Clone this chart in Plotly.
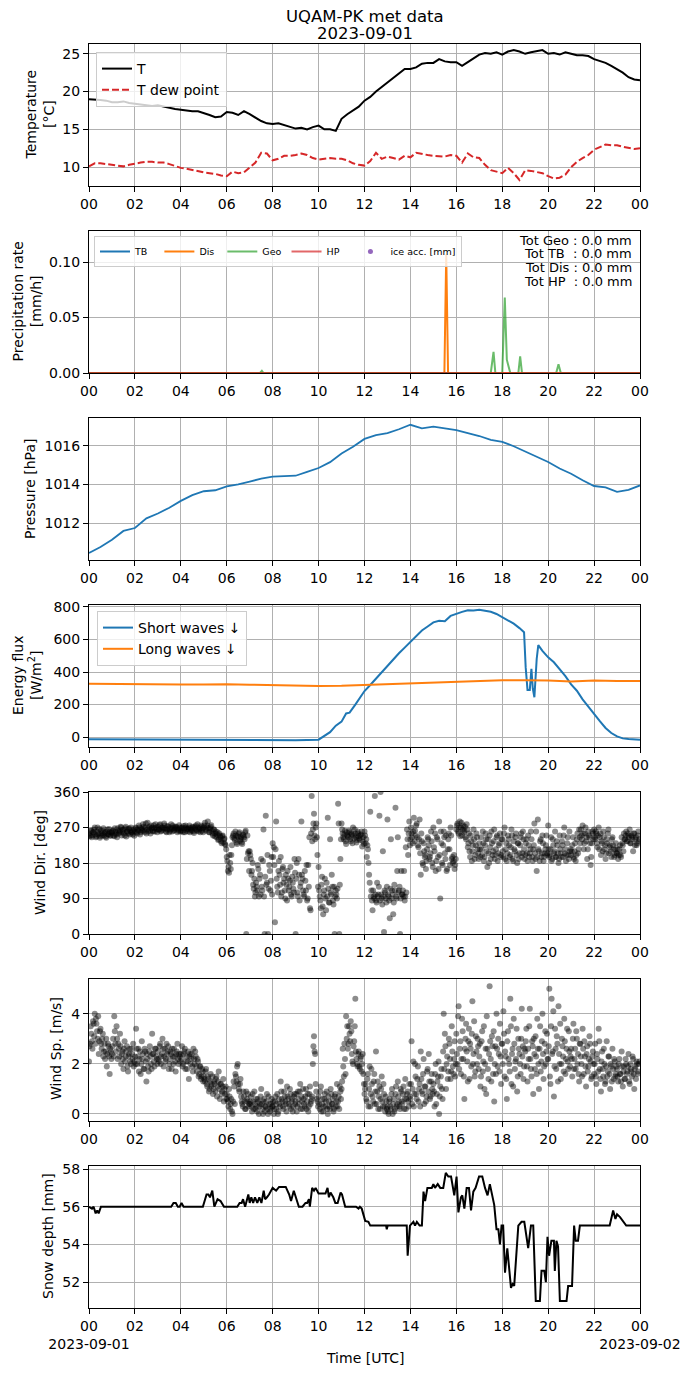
import numpy as np
import pandas as pd
import plotly.graph_objects as go
from plotly.subplots import make_subplots

DAY = pd.Timestamp("2023-09-01")

# air temperature and dew point, every 15 min from 00 to 24 h
temp_c = [19.0, 19.0, 18.9, 18.8,
          18.6, 18.6, 18.7, 18.5,
          18.4, 18.3, 18.2, 18.1,
          18.2, 18.0, 17.9, 17.7,
          17.6, 17.5, 17.4, 17.4,
          17.2, 16.9, 16.6, 16.7,
          17.3, 17.2, 16.9, 17.4,
          17.0, 16.5, 16.1, 15.8,
          15.7, 15.8, 15.6, 15.4,
          15.1, 15.2, 15.0, 15.3,
          15.5, 15.0, 15.0, 14.8,
          16.4, 17.0, 17.5, 18.0,
          18.8, 19.3, 20.0, 20.6,
          21.3, 21.9, 22.5, 23.0,
          23.0, 23.2, 23.7, 23.8,
          23.8, 24.3, 24.0, 23.9,
          23.9, 23.4, 23.9, 24.4,
          24.9, 25.1, 25.0, 25.2,
          24.9, 25.3, 25.5, 25.3,
          25.0, 25.2, 25.3, 25.5,
          25.0, 25.1, 24.9, 25.2,
          25.0, 24.8, 24.8, 24.7,
          24.3, 24.1, 23.8, 23.4,
          23.0, 22.5, 21.9, 21.6,
          21.5]
dew_c = [10.1, 10.5, 10.5, 10.4,
         10.3, 10.2, 10.1, 10.3,
         10.5, 10.6, 10.7, 10.7,
         10.6, 10.6, 10.4, 10.1,
         9.9, 9.8, 9.6, 9.4,
         9.3, 9.2, 9.1, 8.9,
         8.8, 9.4, 9.2, 9.3,
         9.9, 10.6, 11.9, 11.8,
         10.9, 11.1, 11.5, 11.5,
         11.6, 11.8, 11.6, 11.2,
         11.0, 11.1, 11.2, 11.1,
         11.1, 10.9, 10.5, 10.3,
         10.2, 10.8, 11.9, 11.1,
         11.4, 11.2, 11.0, 11.5,
         11.3, 11.9, 11.7, 11.6,
         11.5, 11.4, 11.4, 11.6,
         11.5, 10.6, 11.8, 11.3,
         11.2, 10.3, 9.6, 9.4,
         9.2, 9.9, 9.2, 8.3,
         9.6, 9.5, 9.4, 9.2,
         8.8, 8.5, 8.6, 9.0,
         10.0, 10.7, 11.2, 11.6,
         12.3, 12.7, 13.0, 12.9,
         12.9, 12.7, 12.5, 12.4,
         12.5]

# precipitation rate [mm/h]
prc_tb_hours = [0, 24]
prc_tb = [0.0, 0.0]
prc_dis_hours = [0, 15.48, 15.56, 15.64, 24]
prc_dis = [0.0, 0.0, 0.107, 0.0, 0.0]
prc_geo_hours = [0, 7.45, 7.53, 7.6, 17.5, 17.62, 17.7, 18.0, 18.11, 18.2, 18.25,
                 18.35, 18.7, 18.78, 18.86, 20.35, 20.45, 20.55, 24]
prc_geo = [0.0, 0.0, 0.002, 0.0, 0.0, 0.019, 0.0, 0.0, 0.068, 0.012, 0.008,
           0.0, 0.0, 0.015, 0.0, 0.0, 0.008, 0.0, 0.0]
prc_hp_hours = [0, 24]
prc_hp = [0.0, 0.0]
ice_acc_hours = [0]
ice_acc = [-1.0]  # no ice accretion: sits below the visible range
tot_lines = ["Tot Geo : 0.0 mm", "Tot TB\u00a0\u00a0: 0.0 mm",
             "Tot Dis : 0.0 mm", "Tot HP\u00a0\u00a0: 0.0 mm"]

# pressure, every 30 min
press_hpa = [1010.46, 1010.77, 1011.15, 1011.6, 1011.75, 1012.25, 1012.5, 1012.8,
             1013.15, 1013.45, 1013.65, 1013.7, 1013.9, 1014.0, 1014.15, 1014.3,
             1014.4, 1014.42, 1014.45, 1014.65, 1014.85, 1015.15, 1015.6, 1015.95,
             1016.35, 1016.55, 1016.65, 1016.85, 1017.08, 1016.9, 1016.98, 1016.9,
             1016.8, 1016.65, 1016.5, 1016.3, 1016.2, 1015.97, 1015.7, 1015.42,
             1015.16, 1014.82, 1014.55, 1014.22, 1013.92, 1013.85, 1013.62, 1013.72,
             1013.95]

# radiation
sw_hours = [0, 1, 2, 3, 4, 5, 6, 7, 8, 9, 10,
            10.25, 10.5, 10.75, 11,
            11.2, 11.35, 11.6, 11.8,
            12, 12.25, 12.5, 12.75,
            13, 13.25, 13.5, 13.75,
            14, 14.25, 14.5, 14.75,
            15, 15.25, 15.5, 15.75,
            16, 16.25, 16.5, 16.75,
            17, 17.25, 17.5, 17.75,
            18, 18.25, 18.5, 18.75,
            18.95, 19.02, 19.1, 19.2, 19.27, 19.33, 19.4, 19.5, 19.57,
            19.75, 20, 20.25, 20.5, 20.75,
            21, 21.25, 21.5, 21.75,
            22, 22.25, 22.5, 22.75,
            23, 23.25, 23.5, 23.75, 24]
sw_wm2 = [-14, -15, -15, -16, -16, -17, -17, -18, -19, -19, -16,
          5, 30, 70, 95,
          145, 150, 200, 240,
          283, 320, 360, 400,
          440, 478, 515, 550,
          587, 620, 655, 680,
          705, 715, 712, 745,
          760, 770, 780, 778,
          783, 778, 770, 757,
          738, 718, 697, 670,
          645, 430, 290, 290, 420, 300, 245, 480, 565,
          530, 490, 460, 420, 375,
          324, 285, 232, 185,
          138, 98, 56, 25,
          4, -8, -12, -16, -17]
lw_wm2 = [328, 326, 325, 323, 323, 323, 325, 322, 318, 316, 314, 315, 320,
          327, 334, 337, 341, 346, 350, 349, 348, 342, 348, 345, 345]

# wind direction [deg], 20 samples per hour, second set 1.5 min later
wdir_deg = [
    [255, 248, 262, 250, 258, 270, 245, 260, 252, 266, 248, 255, 262, 250, 258, 244, 265, 252, 258, 250],
    [256, 262, 248, 260, 252, 268, 255, 262, 270, 258, 265, 250, 272, 260, 255, 268, 262, 258, 252, 265],
    [260, 268, 255, 262, 270, 258, 265, 278, 262, 270, 255, 282, 268, 262, 275, 270, 260, 268, 278, 265],
    [272, 265, 278, 262, 270, 268, 275, 260, 265, 272, 258, 270, 266, 275, 262, 268, 272, 258, 265, 270],
    [262, 270, 258, 268, 275, 262, 266, 270, 258, 264, 272, 260, 268, 275, 262, 270, 265, 258, 272, 268],
    [270, 282, 262, 275, 268, 258, 272, 262, 250, 265, 255, 245, 258, 240, 250, 235, 248, 232, 242, 225],
    [195, 160, 155, 180, 200, 245, 255, 238, 250, 228, 245, 258, 240, 232, 252, 245, 258, 0, 250, 210],
    [210, 190, 160, 125, 140, 105, 120, 175, 95, 150, 190, 110, 265, 0, 300, 130, 0, 175, 110, 195],
    [230, 220, 30, 285, 120, 160, 150, 195, 105, 170, 140, 90, 125, 160, 110, 135, 100, 145, 115, 190],
    [0, 180, 95, 150, 120, 285, 140, 100, 160, 110, 85, 175, 245, 60, 350, 265, 305, 240, 280, 200],
    [170, 95, 65, 145, 50, 110, 90, 130, 295, 80, 240, 100, 120, 75, 0, 110, 90, 330, 0, 190],
    [280, 255, 240, 262, 228, 250, 245, 258, 235, 252, 270, 242, 255, 232, 260, 248, 238, 252, 222, 245],
    [260, 230, 195, 215, 150, 310, 110, 60, 95, 350, 85, 130, 100, 300, 360, 90, 210, 5, 105, 80],
    [290, 95, 40, 240, 110, 50, 125, 320, 90, 245, 110, 0, 160, 100, 95, 85, 220, 265, 200, 285],
    [240, 255, 230, 295, 262, 275, 245, 220, 290, 150, 235, 175, 210, 200, 185, 245, 225, 195, 260, 180],
    [270, 210, 160, 245, 195, 285, 90, 230, 175, 260, 205, 250, 165, 240, 215, 270, 190, 180, 200, 175],
    [265, 280, 255, 285, 270, 250, 275, 262, 245, 278, 220, 255, 195, 235, 210, 265, 190, 225, 245, 205],
    [230, 195, 215, 260, 185, 225, 240, 170, 205, 250, 190, 230, 210, 265, 200, 245, 185, 225, 255, 200],
    [240, 195, 270, 215, 185, 250, 225, 200, 265, 190, 235, 210, 255, 180, 230, 205, 245, 195, 260, 215],
    [200, 240, 185, 225, 205, 260, 195, 215, 280, 190, 160, 290, 210, 235, 195, 250, 185, 205, 225, 200],
    [275, 195, 215, 185, 240, 205, 260, 195, 225, 180, 250, 205, 235, 195, 270, 215, 200, 245, 190, 210],
    [200, 225, 195, 210, 185, 240, 205, 265, 230, 250, 275, 215, 255, 235, 190, 260, 245, 175, 230, 255],
    [265, 240, 255, 220, 270, 245, 200, 230, 260, 215, 190, 240, 255, 205, 225, 195, 245, 215, 200, 230],
    [205, 190, 215, 200, 245, 225, 255, 240, 260, 235, 250, 265, 230, 245, 210, 255, 240, 225, 250, 235],
]
wdir_deg_b = [
    [250, 262, 245, 258, 265, 252, 248, 270, 256, 244, 262, 250, 268, 255, 247, 260, 253, 266, 249, 258],
    [262, 250, 268, 255, 245, 262, 258, 272, 250, 263, 255, 268, 247, 260, 266, 252, 270, 257, 262, 249],
    [270, 258, 264, 275, 252, 268, 262, 272, 258, 280, 265, 260, 272, 255, 268, 262, 276, 260, 270, 258],
    [265, 276, 260, 270, 264, 280, 268, 258, 274, 266, 262, 278, 260, 270, 264, 272, 268, 262, 276, 260],
    [268, 262, 274, 258, 270, 266, 260, 275, 268, 262, 270, 256, 272, 264, 278, 260, 268, 275, 262, 258],
    [275, 265, 270, 285, 258, 268, 276, 255, 265, 248, 260, 252, 238, 255, 245, 230, 250, 240, 228, 215],
    [185, 170, 200, 165, 225, 250, 242, 260, 232, 248, 255, 236, 245, 228, 250, 240, 262, 190, 205, 160],
    [200, 150, 180, 115, 95, 130, 110, 165, 140, 100, 120, 185, 95, 145, 125, 200, 115, 160, 135, 100],
    [195, 175, 215, 140, 105, 185, 125, 95, 165, 130, 110, 150, 85, 140, 120, 170, 95, 130, 105, 155],
    [140, 105, 190, 85, 130, 150, 110, 95, 135, 175, 90, 120, 65, 255, 235, 280, 250, 270, 245, 120],
    [110, 85, 125, 70, 100, 140, 60, 95, 115, 80, 105, 150, 85, 120, 95, 100, 115, 280, 125, 240],
    [265, 245, 252, 235, 258, 248, 262, 240, 255, 230, 250, 265, 245, 238, 255, 242, 250, 260, 235, 228],
    [250, 240, 225, 180, 130, 95, 85, 110, 90, 100, 80, 95, 120, 85, 100, 75, 95, 110, 90, 120],
    [100, 85, 115, 90, 100, 80, 110, 95, 160, 105, 120, 90, 100, 110, 160, 95, 105, 240, 255, 225],
    [270, 245, 260, 235, 250, 280, 225, 240, 205, 255, 180, 230, 195, 165, 215, 240, 190, 205, 235, 170],
    [220, 255, 185, 240, 165, 200, 260, 180, 225, 245, 190, 160, 215, 255, 175, 250, 195, 185, 165, 190],
    [275, 260, 270, 248, 282, 265, 258, 272, 240, 265, 230, 210, 250, 185, 225, 240, 200, 255, 215, 190],
    [215, 245, 200, 230, 195, 255, 210, 240, 180, 220, 260, 200, 235, 190, 215, 250, 205, 230, 195, 240],
    [210, 255, 190, 230, 205, 240, 195, 220, 250, 185, 215, 245, 200, 230, 190, 225, 255, 205, 240, 190],
    [230, 205, 250, 195, 215, 240, 185, 225, 205, 260, 195, 215, 185, 240, 205, 230, 195, 215, 250, 205],
    [215, 200, 245, 190, 225, 210, 195, 235, 205, 190, 215, 195, 225, 250, 205, 185, 230, 200, 260, 215],
    [210, 245, 190, 230, 200, 255, 215, 245, 265, 240, 255, 230, 270, 245, 215, 250, 230, 195, 260, 240],
    [245, 260, 230, 250, 215, 255, 235, 210, 245, 225, 205, 230, 265, 220, 210, 240, 225, 195, 215, 205],
    [215, 200, 225, 195, 230, 210, 240, 250, 235, 255, 245, 230, 250, 240, 255, 225, 245, 230, 260, 240],
]

# wind speed [m/s], 20 samples per hour, second set 1.5 min later
wspd_ms = [
    [2.1, 2.8, 3.2, 2.6, 3.6, 4.0, 3.8, 3.3, 3.9, 2.9, 3.4, 2.6, 3.2, 2.5, 2.2, 3.0, 2.4, 2.7, 1.6, 2.5],
    [2.4, 3.0, 3.9, 2.8, 3.5, 2.2, 2.6, 3.2, 2.0, 2.5, 1.8, 2.9, 2.3, 2.7, 1.7, 2.4, 2.1, 2.6, 2.2, 1.9],
    [2.3, 3.4, 2.0, 2.6, 2.2, 1.6, 2.9, 2.4, 1.8, 2.5, 1.3, 2.2, 1.7, 2.7, 2.0, 3.2, 2.4, 1.9, 2.6, 2.2],
    [2.5, 2.1, 2.8, 2.3, 3.0, 1.9, 2.6, 2.2, 2.4, 2.7, 2.0, 2.5, 1.8, 2.3, 2.6, 2.1, 2.4, 2.8, 2.0, 2.3],
    [2.4, 2.7, 2.0, 2.5, 1.8, 2.3, 2.1, 1.4, 2.4, 2.2, 1.9, 2.6, 2.0, 2.3, 1.7, 2.1, 1.6, 1.9, 1.5, 1.7],
    [1.5, 1.3, 1.8, 1.1, 1.4, 1.0, 1.6, 1.2, 0.8, 1.3, 0.9, 1.5, 1.1, 1.7, 0.6, 1.2, 0.9, 1.4, 1.0, 1.1],
    [0.8, 0.5, 1.0, 0.2, 0.6, 0.0, 1.3, 0.4, 1.5, 1.9, 1.2, 0.9, 1.4, 0.5, 0.3, 0.7, 0.2, 0.9, 0.5, 0.3],
    [0.4, 0.7, 0.1, 0.5, 0.9, 0.2, 0.3, 0.6, 0.0, 0.4, 1.0, 0.2, 0.5, 0.1, 0.3, 0.8, 0.0, 0.4, 0.2, 0.6],
    [0.3, 0.0, 0.5, 0.2, 0.8, 0.1, 0.4, 1.3, 0.6, 0.3, 0.9, 0.5, 0.1, 0.7, 0.4, 1.0, 0.2, 0.6, 0.3, 0.8],
    [0.5, 0.1, 0.9, 0.4, 1.2, 0.7, 0.2, 0.6, 0.3, 1.0, 0.5, 0.1, 0.8, 0.4, 0.6, 2.0, 3.1, 2.4, 0.9, 0.5],
    [0.7, 0.2, 1.1, 0.4, 0.1, 0.6, 0.3, 0.9, 0.0, 0.5, 0.2, 0.8, 0.4, 0.1, 0.7, 0.3, 1.2, 0.5, 0.2, 0.9],
    [1.0, 2.6, 1.5, 2.2, 3.9, 3.5, 2.8, 3.2, 3.7, 2.4, 2.0, 2.9, 4.6, 2.2, 1.9, 2.5, 1.8, 2.3, 2.0, 1.6],
    [0.8, 1.2, 0.5, 1.6, 1.0, 0.3, 1.8, 0.7, 1.3, 0.4, 2.5, 0.9, 0.2, 1.1, 0.6, 1.5, 0.3, 0.8, 0.1, 0.5],
    [0.3, 0.0, 0.6, 0.2, 1.0, 0.4, 0.1, 0.8, 0.3, 1.3, 0.5, 0.2, 0.9, 0.4, 1.1, 0.6, 0.2, 0.8, 0.5, 1.2],
    [0.6, 2.9, 1.0, 0.3, 2.0, 0.8, 1.4, 0.5, 1.2, 2.5, 0.9, 1.6, 0.4, 1.1, 0.7, 1.8, 2.4, 0.6, 1.3, 1.0],
    [1.2, 0.3, 2.0, 0.8, 1.5, 0.0, 1.1, 1.8, 0.6, 4.0, 3.2, 1.0, 2.3, 1.7, 2.8, 1.4, 3.5, 1.9, 2.2, 1.5],
    [3.2, 2.0, 4.3, 2.6, 1.6, 3.8, 2.2, 0.6, 3.0, 2.5, 1.3, 3.4, 2.8, 1.9, 4.5, 2.4, 1.5, 3.1, 2.0, 2.7],
    [2.3, 1.1, 2.9, 1.7, 3.5, 2.0, 0.8, 2.6, 1.4, 5.1, 2.2, 3.1, 1.6, 0.5, 2.7, 4.0, 1.9, 2.4, 3.6, 1.2],
    [2.8, 4.1, 1.5, 2.3, 0.6, 3.3, 2.0, 4.6, 1.2, 2.6, 3.8, 1.8, 2.2, 0.9, 3.0, 2.4, 1.6, 4.2, 2.7, 1.9],
    [2.5, 3.4, 1.3, 2.2, 4.2, 1.8, 2.9, 0.8, 2.4, 3.1, 1.6, 2.6, 1.0, 3.5, 2.1, 4.0, 1.4, 2.8, 2.0, 3.2],
    [2.2, 5.0, 1.2, 4.6, 2.5, 0.7, 3.4, 1.8, 2.8, 4.3, 2.0, 1.4, 3.0, 2.3, 3.8, 1.6, 2.6, 2.1, 3.3, 1.9],
    [2.6, 1.5, 3.6, 2.2, 1.8, 3.0, 2.4, 1.3, 2.8, 2.0, 3.4, 1.6, 2.3, 1.1, 2.7, 1.9, 3.1, 2.1, 1.5, 2.5],
    [1.6, 2.8, 1.2, 2.2, 3.4, 1.8, 0.9, 2.5, 1.5, 2.0, 1.3, 2.9, 1.7, 2.3, 1.0, 1.9, 2.6, 1.4, 2.1, 1.6],
    [1.8, 1.3, 2.2, 1.6, 2.5, 1.1, 1.9, 1.4, 2.0, 1.7, 2.4, 1.2, 1.8, 1.5, 2.2, 1.0, 1.9, 2.1, 1.6, 2.0],
]
wspd_ms_b = [
    [2.7, 3.5, 2.9, 3.7, 3.1, 2.8, 3.6, 3.0, 2.4, 3.3, 2.8, 3.0, 2.3, 2.8, 2.5, 1.9, 2.8, 2.3, 2.6, 2.2],
    [2.7, 2.3, 3.3, 2.5, 3.0, 2.8, 2.3, 2.7, 2.4, 2.2, 2.6, 2.1, 2.5, 1.9, 2.3, 2.6, 2.0, 2.4, 2.8, 2.1],
    [2.0, 2.6, 2.3, 1.7, 2.5, 2.0, 2.2, 1.8, 2.6, 2.1, 2.4, 1.9, 2.5, 2.3, 1.8, 2.4, 2.1, 2.6, 2.3, 2.0],
    [2.2, 2.7, 2.0, 2.4, 2.6, 2.3, 2.1, 2.8, 2.5, 1.8, 2.2, 2.4, 2.6, 2.0, 2.3, 1.7, 2.5, 2.2, 2.4, 2.1],
    [2.2, 1.9, 2.4, 2.6, 2.1, 1.8, 2.5, 2.3, 2.0, 2.4, 1.7, 2.2, 2.5, 1.9, 2.2, 1.5, 1.9, 1.4, 1.8, 1.3],
    [1.4, 1.7, 1.2, 1.5, 0.9, 1.3, 1.1, 1.5, 1.0, 1.2, 1.4, 0.7, 1.3, 1.0, 1.2, 0.8, 1.1, 0.5, 0.8, 0.6],
    [0.6, 0.3, 0.7, 0.4, 0.1, 0.5, 1.1, 1.6, 1.3, 2.0, 1.0, 1.2, 0.7, 0.4, 0.9, 0.5, 0.2, 0.6, 0.8, 0.4],
    [0.5, 0.3, 0.8, 0.2, 0.4, 0.6, 0.1, 0.5, 0.3, 0.7, 0.4, 0.0, 0.6, 0.3, 0.5, 0.2, 0.7, 0.1, 0.4, 0.3],
    [0.5, 0.2, 0.7, 0.4, 0.0, 0.6, 0.3, 0.9, 0.5, 0.2, 0.7, 0.4, 1.1, 0.6, 0.3, 0.8, 0.5, 0.1, 0.7, 0.4],
    [0.8, 0.3, 0.6, 0.9, 0.2, 0.5, 1.0, 0.4, 0.7, 0.2, 0.8, 0.3, 1.1, 0.5, 0.7, 2.7, 2.5, 1.2, 0.6, 0.3],
    [0.4, 0.9, 0.1, 0.6, 0.3, 0.8, 0.5, 0.2, 0.7, 0.3, 1.0, 0.4, 0.6, 0.2, 0.8, 0.5, 0.3, 0.7, 1.1, 0.6],
    [1.3, 1.9, 2.8, 1.6, 3.0, 2.6, 3.5, 2.9, 3.3, 2.1, 2.7, 3.5, 2.5, 2.0, 2.4, 1.9, 2.2, 1.7, 2.4, 1.2],
    [1.0, 0.6, 1.4, 0.3, 1.9, 0.8, 1.2, 0.5, 1.6, 0.9, 0.4, 1.3, 0.7, 0.2, 1.0, 0.5, 1.2, 0.3, 0.7, 0.2],
    [0.1, 0.5, 0.3, 0.8, 0.0, 0.6, 0.2, 1.1, 0.4, 0.7, 0.3, 1.0, 0.5, 0.8, 0.2, 1.4, 0.6, 0.9, 0.3, 0.7],
    [1.2, 0.4, 2.1, 0.8, 1.5, 0.6, 1.9, 1.0, 0.3, 1.4, 0.8, 2.2, 1.1, 0.5, 1.7, 0.9, 1.3, 0.7, 1.6, 0.8],
    [0.9, 1.6, 0.4, 1.3, 2.1, 0.7, 1.5, 1.0, 2.5, 1.8, 2.7, 2.0, 1.4, 3.0, 2.2, 1.7, 2.5, 1.6, 2.9, 2.0],
    [2.4, 3.9, 1.8, 2.9, 2.2, 3.3, 1.5, 2.6, 3.6, 2.1, 2.9, 1.4, 2.6, 3.2, 2.0, 3.7, 1.7, 2.5, 3.0, 1.8],
    [2.8, 1.5, 3.3, 2.1, 1.0, 2.6, 3.9, 1.8, 2.4, 2.9, 1.3, 2.7, 3.3, 2.0, 1.6, 2.6, 3.0, 1.7, 2.3, 2.8],
    [2.0, 3.2, 2.5, 1.4, 2.9, 2.2, 1.7, 3.5, 2.4, 1.1, 2.8, 2.1, 3.4, 1.5, 2.6, 2.0, 3.0, 2.3, 1.4, 2.6],
    [2.9, 1.9, 2.6, 3.5, 2.2, 1.5, 2.7, 3.0, 1.8, 2.3, 3.8, 2.0, 2.6, 1.7, 2.9, 2.4, 1.9, 3.3, 2.5, 2.2],
    [2.7, 1.5, 3.5, 2.4, 4.1, 1.9, 2.6, 3.1, 1.3, 2.4, 3.6, 2.0, 2.7, 1.7, 2.9, 2.2, 3.4, 1.8, 2.5, 2.3],
    [2.2, 3.0, 1.8, 2.6, 3.3, 2.0, 1.6, 2.8, 2.3, 1.5, 2.6, 2.9, 1.9, 2.4, 1.7, 2.2, 2.8, 1.4, 2.3, 2.0],
    [2.0, 1.5, 2.4, 1.7, 2.9, 1.4, 2.1, 1.8, 2.6, 1.2, 1.9, 1.5, 2.3, 1.6, 2.0, 1.3, 1.8, 2.2, 1.5, 1.9],
    [1.5, 2.0, 1.6, 1.3, 1.9, 1.7, 1.4, 2.2, 1.6, 1.9, 1.3, 2.0, 1.7, 2.3, 1.6, 1.8, 1.4, 2.0, 1.7, 2.1],
]

# snow depth
snow_hours = [0, 0.13, 0.2, 0.29, 0.36, 0.42, 0.52, 3.58, 3.68, 3.78, 3.87, 3.95, 4.03, 4.12,
              4.96, 5.12, 5.2, 5.27, 5.37, 5.46, 5.6, 5.73, 5.88, 6.46, 6.56, 6.65, 6.71, 6.8,
              6.94, 7.0, 7.07, 7.15, 7.23, 7.33, 7.42, 7.51, 7.61, 7.67, 7.75, 7.84, 8.0, 8.15,
              8.28, 8.57, 8.72, 8.8, 8.92, 9.0, 9.14, 9.3, 9.43, 9.5, 9.58, 9.62, 9.72, 9.8,
              9.87, 10.0, 10.3, 10.39, 10.45, 10.52, 10.64, 10.73, 10.83, 10.96, 11.02, 11.16,
              11.63, 11.74, 11.8, 11.88, 12.03, 12.17, 12.25, 12.94, 12.97, 13.01, 13.84, 13.88,
              13.98, 14.13, 14.2, 14.28, 14.4, 14.5, 14.57, 14.64, 14.74, 14.93, 15.0, 15.07,
              15.19, 15.3, 15.43, 15.54, 15.65, 15.77, 15.91, 16.01, 16.09, 16.2, 16.26, 16.35,
              16.45, 16.55, 16.64, 16.74, 16.84, 16.99, 17.13, 17.25, 17.36, 17.46, 17.65, 17.75,
              17.83, 17.9, 17.97, 18.04, 18.12, 18.22, 18.3, 18.38, 18.45, 18.52, 18.7, 18.84,
              18.96, 19.13, 19.25, 19.35, 19.46, 19.64, 19.71, 19.83, 19.9, 19.97, 20.04, 20.14,
              20.25, 20.29, 20.36, 20.43, 20.51, 20.8, 20.87, 21.04, 21.13, 21.2, 21.3, 21.38,
              22.68, 22.83, 22.93, 23.0, 23.13, 23.26, 23.4, 24.0]
snow_mm = [56.0, 55.9, 56.0, 55.65, 55.8, 55.65, 56.0, 56.0, 56.2, 56.2, 56.0, 56.0, 56.2, 56.0,
           56.0, 56.65, 56.65, 56.5, 56.85, 56.0, 56.4, 56.3, 56.0, 56.0, 56.2, 56.2, 56.4, 56.0,
           56.65, 56.2, 56.5, 56.2, 56.5, 56.2, 56.5, 56.2, 56.85, 56.4, 56.5, 56.65, 57.0, 56.85,
           57.05, 57.05, 56.65, 56.3, 56.85, 56.5, 56.0, 56.0, 56.2, 56.2, 56.4, 56.0, 57.0, 56.85,
           57.0, 56.7, 56.7, 57.0, 56.5, 56.75, 56.5, 56.2, 56.2, 56.75, 56.65, 56.0,
           56.0, 55.9, 56.0, 55.9, 55.25, 55.2, 55.0, 55.0, 54.8, 55.0, 55.0, 53.4,
           55.0, 55.2, 55.0, 55.2, 55.0, 55.0, 56.8, 56.3, 57.0, 57.0, 57.2, 57.0,
           57.2, 57.0, 57.0, 57.8, 57.6, 57.6, 56.6, 57.6, 55.7, 56.5, 56.6, 55.9,
           57.0, 57.0, 55.8, 56.8, 57.0, 57.6, 57.6, 57.0, 56.6, 57.2, 56.1, 54.8,
           54.8, 54.0, 55.0, 55.0, 52.5, 53.8, 52.6, 51.7, 51.9, 51.8, 55.0, 55.2,
           55.2, 53.8, 55.0, 55.0, 51.0, 51.0, 52.6, 52.6, 52.0, 54.4, 53.4, 54.2,
           54.2, 52.6, 54.2, 53.9, 51.0, 51.0, 51.8, 51.8, 55.0, 54.2, 54.2, 55.0,
           55.0, 55.8, 55.35, 55.6, 55.45, 55.2, 55.0, 55.0]

hour_labels = ["00", "02", "04", "06", "08", "10", "12", "14", "16", "18", "20", "22", "00"]
y_titles = ["Temperature<br>[°C]", "Precipitation rate<br>[mm/h]", "Pressure [hPa]",
            "Energy flux<br>[W/m<sup>2</sup>]", "Wind Dir. [deg]", "Wind Sp. [m/s]",
            "Snow depth [mm]"]


def to_time(hours):
    return [DAY + pd.Timedelta(hours=float(h)) for h in hours]


t_15min = to_time(np.arange(len(temp_c)) * 0.25)
t_30min = to_time(np.arange(len(press_hpa)) * 0.5)
t_hourly = to_time(np.arange(len(lw_wm2)))
n_wind = 20 * len(wdir_deg)
wind_hours = np.concatenate([np.arange(n_wind) * 0.05, np.arange(n_wind) * 0.05 + 0.025])
t_wind = to_time(wind_hours)
wdir_all = [v for row in wdir_deg for v in row] + [v for row in wdir_deg_b for v in row]
wspd_all = [v for row in wspd_ms for v in row] + [v for row in wspd_ms_b for v in row]

FONT = "DejaVu Sans"
GRID = "#b0b0b0"
NB = "\u00a0"

fig = make_subplots(rows=7, cols=1, vertical_spacing=45 / 1264)

# temperature
fig.add_trace(go.Scatter(x=t_15min, y=temp_c, mode="lines", name="T",
                         line=dict(color="black", width=2), legend="legend"), row=1, col=1)
fig.add_trace(go.Scatter(x=t_15min, y=dew_c, mode="lines", name="T dew point",
                         line=dict(color="#d62728", width=2, dash="7px,3px"),
                         legend="legend"), row=1, col=1)

# precipitation
fig.add_trace(go.Scatter(x=to_time(prc_tb_hours), y=prc_tb, mode="lines", name="TB" + NB * 2,
                         line=dict(color="#1f77b4", width=2), legend="legend2"), row=2, col=1)
fig.add_trace(go.Scatter(x=to_time(prc_dis_hours), y=prc_dis, mode="lines", name="Dis" + NB,
                         line=dict(color="#ff7f0e", width=2), legend="legend2"), row=2, col=1)
fig.add_trace(go.Scatter(x=to_time(prc_geo_hours), y=prc_geo, mode="lines", name="Geo",
                         line=dict(color="#2ca02c", width=2), opacity=0.7,
                         legend="legend2"), row=2, col=1)
fig.add_trace(go.Scatter(x=to_time(prc_hp_hours), y=prc_hp, mode="lines", name="HP" + NB * 2,
                         line=dict(color="#d62728", width=2), opacity=0.7,
                         legend="legend2"), row=2, col=1)
fig.add_trace(go.Scatter(x=to_time(ice_acc_hours), y=ice_acc, mode="markers",
                         name="ice acc. [mm]", marker=dict(color="#9467bd", size=5),
                         legend="legend2"), row=2, col=1)

# pressure
fig.add_trace(go.Scatter(x=t_30min, y=press_hpa, mode="lines", showlegend=False,
                         line=dict(color="#1f77b4", width=1.8)), row=3, col=1)

# radiation
fig.add_trace(go.Scatter(x=to_time(sw_hours), y=sw_wm2, mode="lines", name="Short waves \u2193",
                         line=dict(color="#1f77b4", width=2), legend="legend3"), row=4, col=1)
fig.add_trace(go.Scatter(x=t_hourly, y=lw_wm2, mode="lines", name="Long waves \u2193",
                         line=dict(color="#ff7f0e", width=2), legend="legend3"), row=4, col=1)

# wind
fig.add_trace(go.Scatter(x=t_wind, y=wdir_all, mode="markers", showlegend=False,
                         marker=dict(color="black", size=6, opacity=0.45)), row=5, col=1)
fig.add_trace(go.Scatter(x=t_wind, y=wspd_all, mode="markers", showlegend=False,
                         marker=dict(color="black", size=6, opacity=0.45)), row=6, col=1)

# snow depth
fig.add_trace(go.Scatter(x=to_time(snow_hours), y=snow_mm, mode="lines", showlegend=False,
                         line=dict(color="black", width=2)), row=7, col=1)

tick_times = to_time(range(0, 25, 2))
for i in range(1, 8):
    text = list(hour_labels)
    if i == 7:
        text[0] = "00<br>2023-09-01"
        text[-1] = "00<br>2023-09-02"
    fig.update_xaxes(row=i, col=1, type="date", range=[DAY, DAY + pd.Timedelta(hours=24)],
                     tickmode="array", tickvals=tick_times, ticktext=text, tickangle=0,
                     showgrid=True, gridcolor=GRID, gridwidth=1, automargin=False,
                     showline=True, linecolor="black", linewidth=1, mirror=True,
                     ticks="outside", ticklen=5, tickcolor="black", zeroline=False)
    fig.update_yaxes(row=i, col=1, showgrid=True, gridcolor=GRID, gridwidth=1,
                     automargin=False,
                     showline=True, linecolor="black", linewidth=1, mirror=True,
                     ticks="outside", ticklen=5, tickcolor="black", zeroline=False)

fig.update_yaxes(row=1, col=1, range=[7.5, 26.3], tickvals=[10, 15, 20, 25])
fig.update_yaxes(row=2, col=1, range=[0, 0.128], tickvals=[0, 0.05, 0.10], tickformat=".2f")
fig.update_yaxes(row=3, col=1, range=[1010.1, 1017.43], tickvals=[1012, 1014, 1016])
fig.update_yaxes(row=4, col=1, range=[-61, 812], tickvals=[0, 200, 400, 600, 800])
fig.update_yaxes(row=5, col=1, range=[0, 360], tickvals=[0, 90, 180, 270, 360])
fig.update_yaxes(row=6, col=1, range=[-0.28, 5.39], tickvals=[0, 2, 4])
fig.update_yaxes(row=7, col=1, range=[50.63, 58.16], tickvals=[52, 54, 56, 58])


def py(ypix):
    return (1308 - ypix) / 1264


def px(xpix):
    return (xpix - 89) / 551


annotations = [
    dict(text="UQAM-PK met data", x=0.5, y=py(17), xref="paper", yref="paper",
         showarrow=False, font=dict(size=16.5), yanchor="middle"),
    dict(text="2023-09-01", x=0.5, y=py(34), xref="paper", yref="paper",
         showarrow=False, font=dict(size=16.5), yanchor="middle"),
    dict(text="Time [UTC]", x=0.5, y=py(1358), xref="paper", yref="paper",
         showarrow=False, font=dict(size=14), yanchor="middle"),
]
for k, line in enumerate(tot_lines):
    annotations.append(dict(text=line, x=px(633), y=py(240 + 13.9 * k),
                            xref="paper", yref="paper", xanchor="right", yanchor="middle",
                            showarrow=False, font=dict(size=13), borderpad=0))

# y-axis titles, placed next to each panel's tick labels
title_x = [39.5, 26.5, 30, 27, 40, 56, 48]
panel_top = [44, 231, 418, 605, 792, 978, 1165]
for k, title in enumerate(y_titles):
    annotations.append(dict(text=title, x=px(title_x[k]), y=py(panel_top[k] + 71),
                            xref="paper", yref="paper", xanchor="center", yanchor="middle",
                            textangle=-90, showarrow=False, font=dict(size=14)))

legend_style = dict(bgcolor="rgba(255,255,255,0.8)", bordercolor="#cccccc", borderwidth=1,
                    xanchor="left", yanchor="top", itemwidth=30)

# the page body adds an 8 px offset, so the margins are shifted by 8 px
fig.update_layout(
    width=690, height=1377,
    margin=dict(l=81, r=58, t=36, b=77),
    font=dict(family=FONT, size=14, color="black"),
    plot_bgcolor="white", paper_bgcolor="white",
    annotations=annotations,
    legend=dict(x=px(96), y=py(52), font=dict(size=14), **legend_style),
    legend2=dict(x=px(94), y=py(236), orientation="h", font=dict(size=9.5),
                 **legend_style),
    legend3=dict(x=px(97), y=py(611), font=dict(size=14), **legend_style),
)

fig.write_html("out.html")
